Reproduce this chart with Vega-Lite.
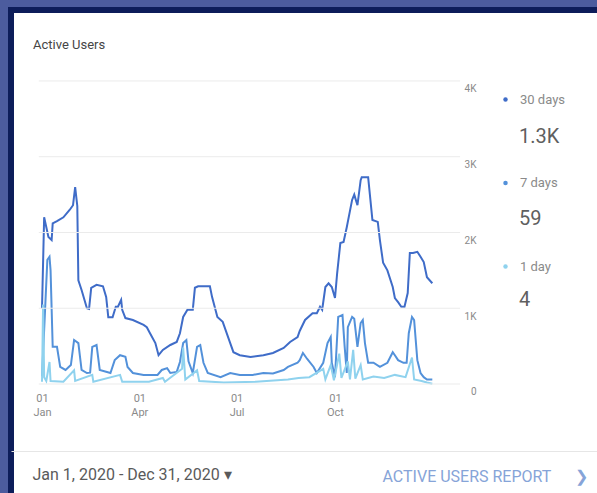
{
  "$schema": "https://vega.github.io/schema/vega-lite/v6.json",
  "width": 596,
  "height": 493,
  "autosize": "none",
  "padding": {"left": 11, "top": 10, "right": -10, "bottom": -10},
  "background": "#4c5c9e",
  "view": {"fill": "#ffffff", "fillOpacity": 1, "stroke": "#0d1d5a", "strokeWidth": 6},
  "config": {
    "font": "Roboto"
  },
  "title": {
    "text": "Active Users",
    "anchor": "start",
    "frame": "group",
    "offset": 0,
    "baseline": "alphabetic",
    "dx": 22,
    "dy": 52,
    "fontSize": 13,
    "fontWeight": "normal",
    "color": "#454545"
  },
  "datasets": {
    "grid": [{"g": 0}, {"g": 1000}, {"g": 2000}, {"g": 3000}, {"g": 4000}],
    "legendvals": [
      {"series": "30 days", "current": "1.3K"},
      {"series": "7 days", "current": "59"},
      {"series": "1 day", "current": "4"}
    ],
    "lines": [
      {"date": "2020-01-01", "series": "30 days", "users": 1000},
      {"date": "2020-01-03", "series": "30 days", "users": 2200},
      {"date": "2020-01-07", "series": "30 days", "users": 1940},
      {"date": "2020-01-10", "series": "30 days", "users": 1900},
      {"date": "2020-01-11", "series": "30 days", "users": 2120},
      {"date": "2020-01-15", "series": "30 days", "users": 2150},
      {"date": "2020-01-21", "series": "30 days", "users": 2200},
      {"date": "2020-01-27", "series": "30 days", "users": 2300},
      {"date": "2020-01-30", "series": "30 days", "users": 2360},
      {"date": "2020-02-01", "series": "30 days", "users": 2600},
      {"date": "2020-02-03", "series": "30 days", "users": 2350},
      {"date": "2020-02-04", "series": "30 days", "users": 1370},
      {"date": "2020-02-07", "series": "30 days", "users": 1240},
      {"date": "2020-02-12", "series": "30 days", "users": 1000},
      {"date": "2020-02-14", "series": "30 days", "users": 990},
      {"date": "2020-02-16", "series": "30 days", "users": 1270},
      {"date": "2020-02-21", "series": "30 days", "users": 1310},
      {"date": "2020-02-27", "series": "30 days", "users": 1290},
      {"date": "2020-03-01", "series": "30 days", "users": 1150},
      {"date": "2020-03-03", "series": "30 days", "users": 880},
      {"date": "2020-03-07", "series": "30 days", "users": 880},
      {"date": "2020-03-10", "series": "30 days", "users": 1020},
      {"date": "2020-03-12", "series": "30 days", "users": 1020},
      {"date": "2020-03-15", "series": "30 days", "users": 1110},
      {"date": "2020-03-16", "series": "30 days", "users": 980},
      {"date": "2020-03-19", "series": "30 days", "users": 870},
      {"date": "2020-03-26", "series": "30 days", "users": 845},
      {"date": "2020-04-05", "series": "30 days", "users": 780},
      {"date": "2020-04-08", "series": "30 days", "users": 750},
      {"date": "2020-04-11", "series": "30 days", "users": 670},
      {"date": "2020-04-16", "series": "30 days", "users": 540},
      {"date": "2020-04-19", "series": "30 days", "users": 380},
      {"date": "2020-04-23", "series": "30 days", "users": 450},
      {"date": "2020-04-30", "series": "30 days", "users": 515},
      {"date": "2020-05-06", "series": "30 days", "users": 555},
      {"date": "2020-05-09", "series": "30 days", "users": 670},
      {"date": "2020-05-12", "series": "30 days", "users": 885},
      {"date": "2020-05-16", "series": "30 days", "users": 980},
      {"date": "2020-05-21", "series": "30 days", "users": 980},
      {"date": "2020-05-23", "series": "30 days", "users": 1270},
      {"date": "2020-05-26", "series": "30 days", "users": 1290},
      {"date": "2020-06-06", "series": "30 days", "users": 1290},
      {"date": "2020-06-08", "series": "30 days", "users": 1150},
      {"date": "2020-06-13", "series": "30 days", "users": 885},
      {"date": "2020-06-18", "series": "30 days", "users": 820},
      {"date": "2020-06-25", "series": "30 days", "users": 540},
      {"date": "2020-06-28", "series": "30 days", "users": 420},
      {"date": "2020-07-04", "series": "30 days", "users": 380},
      {"date": "2020-07-14", "series": "30 days", "users": 356},
      {"date": "2020-07-26", "series": "30 days", "users": 380},
      {"date": "2020-08-04", "series": "30 days", "users": 410},
      {"date": "2020-08-14", "series": "30 days", "users": 475},
      {"date": "2020-08-20", "series": "30 days", "users": 555},
      {"date": "2020-08-27", "series": "30 days", "users": 620},
      {"date": "2020-08-29", "series": "30 days", "users": 700},
      {"date": "2020-09-03", "series": "30 days", "users": 845},
      {"date": "2020-09-10", "series": "30 days", "users": 935},
      {"date": "2020-09-14", "series": "30 days", "users": 935},
      {"date": "2020-09-17", "series": "30 days", "users": 1020},
      {"date": "2020-09-19", "series": "30 days", "users": 980},
      {"date": "2020-09-22", "series": "30 days", "users": 1280},
      {"date": "2020-09-25", "series": "30 days", "users": 1330},
      {"date": "2020-09-28", "series": "30 days", "users": 1280},
      {"date": "2020-10-01", "series": "30 days", "users": 1135},
      {"date": "2020-10-03", "series": "30 days", "users": 1460},
      {"date": "2020-10-06", "series": "30 days", "users": 1860},
      {"date": "2020-10-09", "series": "30 days", "users": 1875},
      {"date": "2020-10-12", "series": "30 days", "users": 2070},
      {"date": "2020-10-17", "series": "30 days", "users": 2430},
      {"date": "2020-10-19", "series": "30 days", "users": 2500},
      {"date": "2020-10-22", "series": "30 days", "users": 2360},
      {"date": "2020-10-25", "series": "30 days", "users": 2690},
      {"date": "2020-10-26", "series": "30 days", "users": 2730},
      {"date": "2020-11-01", "series": "30 days", "users": 2730},
      {"date": "2020-11-05", "series": "30 days", "users": 2165},
      {"date": "2020-11-10", "series": "30 days", "users": 2140},
      {"date": "2020-11-12", "series": "30 days", "users": 1900},
      {"date": "2020-11-15", "series": "30 days", "users": 1600},
      {"date": "2020-11-19", "series": "30 days", "users": 1500},
      {"date": "2020-11-24", "series": "30 days", "users": 1280},
      {"date": "2020-11-26", "series": "30 days", "users": 1135},
      {"date": "2020-11-29", "series": "30 days", "users": 1080},
      {"date": "2020-12-02", "series": "30 days", "users": 1020},
      {"date": "2020-12-05", "series": "30 days", "users": 1020},
      {"date": "2020-12-08", "series": "30 days", "users": 1200},
      {"date": "2020-12-10", "series": "30 days", "users": 1730},
      {"date": "2020-12-13", "series": "30 days", "users": 1730},
      {"date": "2020-12-17", "series": "30 days", "users": 1745},
      {"date": "2020-12-20", "series": "30 days", "users": 1680},
      {"date": "2020-12-23", "series": "30 days", "users": 1610},
      {"date": "2020-12-26", "series": "30 days", "users": 1410},
      {"date": "2020-12-31", "series": "30 days", "users": 1330},

      {"date": "2020-01-01", "series": "7 days", "users": 100},
      {"date": "2020-01-06", "series": "7 days", "users": 1640},
      {"date": "2020-01-08", "series": "7 days", "users": 1680},
      {"date": "2020-01-09", "series": "7 days", "users": 1500},
      {"date": "2020-01-11", "series": "7 days", "users": 490},
      {"date": "2020-01-15", "series": "7 days", "users": 490},
      {"date": "2020-01-18", "series": "7 days", "users": 225},
      {"date": "2020-01-23", "series": "7 days", "users": 185},
      {"date": "2020-01-25", "series": "7 days", "users": 210},
      {"date": "2020-01-28", "series": "7 days", "users": 250},
      {"date": "2020-01-31", "series": "7 days", "users": 580},
      {"date": "2020-02-04", "series": "7 days", "users": 540},
      {"date": "2020-02-07", "series": "7 days", "users": 185},
      {"date": "2020-02-12", "series": "7 days", "users": 145},
      {"date": "2020-02-15", "series": "7 days", "users": 150},
      {"date": "2020-02-17", "series": "7 days", "users": 490},
      {"date": "2020-02-21", "series": "7 days", "users": 515},
      {"date": "2020-02-24", "series": "7 days", "users": 185},
      {"date": "2020-03-05", "series": "7 days", "users": 145},
      {"date": "2020-03-09", "series": "7 days", "users": 315},
      {"date": "2020-03-14", "series": "7 days", "users": 380},
      {"date": "2020-03-19", "series": "7 days", "users": 360},
      {"date": "2020-03-21", "series": "7 days", "users": 225},
      {"date": "2020-03-26", "series": "7 days", "users": 145},
      {"date": "2020-04-05", "series": "7 days", "users": 120},
      {"date": "2020-04-18", "series": "7 days", "users": 120},
      {"date": "2020-04-22", "series": "7 days", "users": 185},
      {"date": "2020-04-27", "series": "7 days", "users": 210},
      {"date": "2020-04-30", "series": "7 days", "users": 145},
      {"date": "2020-05-06", "series": "7 days", "users": 160},
      {"date": "2020-05-09", "series": "7 days", "users": 290},
      {"date": "2020-05-12", "series": "7 days", "users": 540},
      {"date": "2020-05-15", "series": "7 days", "users": 580},
      {"date": "2020-05-17", "series": "7 days", "users": 300},
      {"date": "2020-05-21", "series": "7 days", "users": 145},
      {"date": "2020-05-25", "series": "7 days", "users": 490},
      {"date": "2020-05-28", "series": "7 days", "users": 515},
      {"date": "2020-05-31", "series": "7 days", "users": 280},
      {"date": "2020-06-04", "series": "7 days", "users": 145},
      {"date": "2020-06-16", "series": "7 days", "users": 90},
      {"date": "2020-06-25", "series": "7 days", "users": 145},
      {"date": "2020-07-04", "series": "7 days", "users": 120},
      {"date": "2020-07-16", "series": "7 days", "users": 120},
      {"date": "2020-07-26", "series": "7 days", "users": 145},
      {"date": "2020-08-04", "series": "7 days", "users": 140},
      {"date": "2020-08-14", "series": "7 days", "users": 185},
      {"date": "2020-08-18", "series": "7 days", "users": 225},
      {"date": "2020-08-27", "series": "7 days", "users": 280},
      {"date": "2020-08-29", "series": "7 days", "users": 315},
      {"date": "2020-09-01", "series": "7 days", "users": 410},
      {"date": "2020-09-05", "series": "7 days", "users": 330},
      {"date": "2020-09-11", "series": "7 days", "users": 225},
      {"date": "2020-09-14", "series": "7 days", "users": 145},
      {"date": "2020-09-20", "series": "7 days", "users": 280},
      {"date": "2020-09-24", "series": "7 days", "users": 540},
      {"date": "2020-09-27", "series": "7 days", "users": 620},
      {"date": "2020-09-28", "series": "7 days", "users": 280},
      {"date": "2020-10-01", "series": "7 days", "users": 90},
      {"date": "2020-10-04", "series": "7 days", "users": 885},
      {"date": "2020-10-08", "series": "7 days", "users": 910},
      {"date": "2020-10-10", "series": "7 days", "users": 500},
      {"date": "2020-10-12", "series": "7 days", "users": 145},
      {"date": "2020-10-13", "series": "7 days", "users": 750},
      {"date": "2020-10-17", "series": "7 days", "users": 885},
      {"date": "2020-10-19", "series": "7 days", "users": 860},
      {"date": "2020-10-22", "series": "7 days", "users": 490},
      {"date": "2020-10-25", "series": "7 days", "users": 805},
      {"date": "2020-10-27", "series": "7 days", "users": 845},
      {"date": "2020-10-29", "series": "7 days", "users": 540},
      {"date": "2020-11-01", "series": "7 days", "users": 280},
      {"date": "2020-11-06", "series": "7 days", "users": 280},
      {"date": "2020-11-12", "series": "7 days", "users": 225},
      {"date": "2020-11-19", "series": "7 days", "users": 280},
      {"date": "2020-11-24", "series": "7 days", "users": 420},
      {"date": "2020-11-26", "series": "7 days", "users": 380},
      {"date": "2020-11-29", "series": "7 days", "users": 315},
      {"date": "2020-12-04", "series": "7 days", "users": 280},
      {"date": "2020-12-07", "series": "7 days", "users": 280},
      {"date": "2020-12-09", "series": "7 days", "users": 670},
      {"date": "2020-12-12", "series": "7 days", "users": 885},
      {"date": "2020-12-14", "series": "7 days", "users": 845},
      {"date": "2020-12-17", "series": "7 days", "users": 315},
      {"date": "2020-12-20", "series": "7 days", "users": 145},
      {"date": "2020-12-23", "series": "7 days", "users": 90},
      {"date": "2020-12-26", "series": "7 days", "users": 60},
      {"date": "2020-12-31", "series": "7 days", "users": 59},

      {"date": "2020-01-01", "series": "1 day", "users": 30},
      {"date": "2020-01-02", "series": "1 day", "users": 1050},
      {"date": "2020-01-03", "series": "1 day", "users": 90},
      {"date": "2020-01-05", "series": "1 day", "users": 40},
      {"date": "2020-01-08", "series": "1 day", "users": 290},
      {"date": "2020-01-09", "series": "1 day", "users": 40},
      {"date": "2020-01-21", "series": "1 day", "users": 30},
      {"date": "2020-01-31", "series": "1 day", "users": 180},
      {"date": "2020-02-01", "series": "1 day", "users": 40},
      {"date": "2020-02-17", "series": "1 day", "users": 120},
      {"date": "2020-02-18", "series": "1 day", "users": 30},
      {"date": "2020-03-14", "series": "1 day", "users": 120},
      {"date": "2020-03-16", "series": "1 day", "users": 30},
      {"date": "2020-04-10", "series": "1 day", "users": 30},
      {"date": "2020-04-23", "series": "1 day", "users": 80},
      {"date": "2020-04-25", "series": "1 day", "users": 30},
      {"date": "2020-05-11", "series": "1 day", "users": 200},
      {"date": "2020-05-12", "series": "1 day", "users": 480},
      {"date": "2020-05-14", "series": "1 day", "users": 60},
      {"date": "2020-05-25", "series": "1 day", "users": 180},
      {"date": "2020-05-27", "series": "1 day", "users": 40},
      {"date": "2020-06-19", "series": "1 day", "users": 20},
      {"date": "2020-07-19", "series": "1 day", "users": 30},
      {"date": "2020-08-18", "series": "1 day", "users": 60},
      {"date": "2020-08-28", "series": "1 day", "users": 80},
      {"date": "2020-09-07", "series": "1 day", "users": 90},
      {"date": "2020-09-20", "series": "1 day", "users": 200},
      {"date": "2020-09-22", "series": "1 day", "users": 60},
      {"date": "2020-09-27", "series": "1 day", "users": 250},
      {"date": "2020-09-30", "series": "1 day", "users": 50},
      {"date": "2020-10-05", "series": "1 day", "users": 400},
      {"date": "2020-10-07", "series": "1 day", "users": 80},
      {"date": "2020-10-13", "series": "1 day", "users": 300},
      {"date": "2020-10-15", "series": "1 day", "users": 60},
      {"date": "2020-10-18", "series": "1 day", "users": 450},
      {"date": "2020-10-20", "series": "1 day", "users": 70},
      {"date": "2020-10-25", "series": "1 day", "users": 250},
      {"date": "2020-10-27", "series": "1 day", "users": 60},
      {"date": "2020-11-06", "series": "1 day", "users": 100},
      {"date": "2020-11-16", "series": "1 day", "users": 80},
      {"date": "2020-11-26", "series": "1 day", "users": 120},
      {"date": "2020-12-06", "series": "1 day", "users": 90},
      {"date": "2020-12-12", "series": "1 day", "users": 350},
      {"date": "2020-12-14", "series": "1 day", "users": 60},
      {"date": "2020-12-21", "series": "1 day", "users": 40},
      {"date": "2020-12-26", "series": "1 day", "users": 20},
      {"date": "2020-12-31", "series": "1 day", "users": 4}
    ]
  },
  "layer": [
    {
      "data": {"name": "lines"},
      "mark": {"type": "line", "strokeWidth": 2},
      "encoding": {
        "x": {
          "field": "date", "type": "temporal",
          "scale": {"type": "utc", "domain": [{"year": 2019, "month": 12, "date": 3, "utc": true}, {"year": 2021, "month": 6, "date": 12, "hours": 9, "utc": true}]},
          "axis": {
            "orient": "bottom", "offset": -52,
            "values": [{"year": 2020, "month": 1, "date": 1, "utc": true}, {"year": 2020, "month": 4, "date": 1, "utc": true}, {"year": 2020, "month": 7, "date": 1, "utc": true}, {"year": 2020, "month": 10, "date": 1, "utc": true}],
            "labelExpr": "[utcFormat(datum.value, '%d'), utcFormat(datum.value, '%b')]",
            "ticks": false, "tickSize": 0, "grid": false,
            "domain": true, "domainColor": "#e6e6e6", "domainWidth": 1,
            "labelPadding": -59, "labelBaseline": "top", "labelLineHeight": 14,
            "labelFontSize": 11, "labelColor": "#8a8a8a", "labelAlign": "center", "labelOverlap": false,
            "title": "Jan 1, 2020 - Dec 31, 2020 ▾",
            "titleX": 21, "titleY": 23, "titleAlign": "left", "titleAnchor": "start",
            "titleBaseline": "middle", "titleFontSize": 16, "titleFontWeight": "normal", "titleColor": "#5a5a5a"
          }
        },
        "y": {
          "field": "users", "type": "quantitative",
          "scale": {"domain": [-1571, 4937], "zero": false, "nice": false},
          "axis": {
            "orient": "right", "offset": -131,
            "values": [0, 1000, 2000, 3000, 4000],
            "labelExpr": "datum.value == 0 ? '0' : (datum.value / 1000) + 'K'",
            "ticks": false, "tickSize": 0, "domain": false, "grid": false,
            "labelPadding": 0, "labelAlign": "right", "labelBaseline": "middle", "labelOffset": 8,
            "labelFontSize": 10, "labelColor": "#8a8a8a",
            "title": "ACTIVE USERS REPORT\u00a0\u00a0\u00a0\u00a0\u00a0\u00a0❯",
            "titleAngle": 0, "titleX": -94, "titleY": 466, "titleAlign": "left", "titleAnchor": "start",
            "titleBaseline": "middle", "titleFontSize": 16, "titleFontWeight": "normal", "titleColor": "#86a4d8"
          }
        },
        "color": {
          "field": "series", "type": "nominal",
          "scale": {"domain": ["30 days", "7 days", "1 day"], "range": ["#3f6cc8", "#5391da", "#8fd2ee"]},
          "legend": {
            "orient": "none", "legendX": 488, "legendY": 83, "title": null,
            "symbolType": "circle", "symbolSize": 20, "symbolStrokeWidth": 0,
            "labelFontSize": 13, "labelColor": "#8a8a8a", "labelOffset": 8, "rowPadding": 69.5,
            "encode": {"symbols": {"update": {"fill": {"scale": "color", "field": "value"}, "fillOpacity": {"value": 1}}}}
          }
        }
      }
    },
    {
      "data": {"name": "grid"},
      "mark": {"type": "rule", "color": "#ebebeb", "strokeWidth": 1},
      "encoding": {
        "y": {"field": "g", "type": "quantitative"},
        "x": {"datum": {"year": 2019, "month": 12, "date": 29, "utc": true}, "type": "temporal"},
        "x2": {"datum": {"year": 2021, "month": 1, "date": 26, "utc": true}}
      }
    },
    {
      "data": {"name": "legendvals"},
      "mark": {"type": "point", "opacity": 0},
      "encoding": {
        "shape": {
          "field": "current", "type": "nominal",
          "scale": {"domain": ["1.3K", "59", "4"]},
          "legend": {
            "orient": "none", "legendX": 487, "legendY": 117, "title": null,
            "symbolSize": 1, "symbolOpacity": 0, "symbolStrokeWidth": 0,
            "labelAlign": "left",
            "labelFontSize": 20, "labelColor": "#5f5f5f", "labelOffset": 1, "rowPadding": 61.5
          }
        }
      }
    }
  ]
}
